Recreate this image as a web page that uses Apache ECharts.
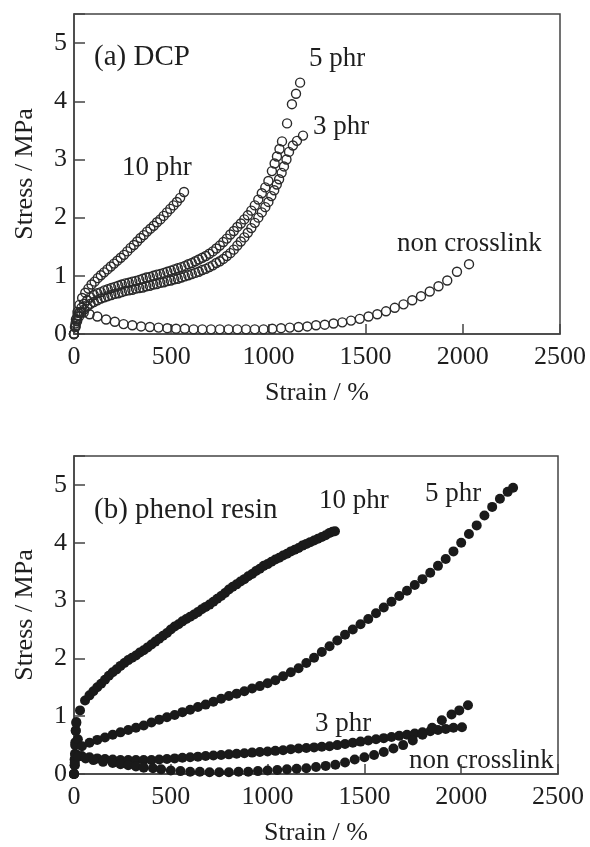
<!DOCTYPE html>
<html>
<head>
<meta charset="utf-8">
<style>
  html, body { margin: 0; padding: 0; background: #fff; }
  #chart-container { width: 590px; height: 847px; }
</style>
<script src="https://cdn.jsdelivr.net/npm/echarts/dist/echarts.min.js"></script>
</head>
<body>
<div id="chart-container"></div>
<script>
// axis ticks
var strainTicks = [0, 500, 1000, 1500, 2000, 2500];
var stressTicks = [0, 1, 2, 3, 4, 5];

// (a) DCP, open circles
var dcp10Strain = [0, 5, 10, 18, 28, 42, 58, 74, 90, 106, 122, 138, 155, 172, 189, 206, 223, 240, 257, 274, 291, 308, 325, 342, 359, 376, 393, 410, 427, 444, 461, 478, 495, 512, 529, 546, 566];
var dcp10Stress = [0, 0.12, 0.25, 0.38, 0.5, 0.62, 0.71, 0.78, 0.85, 0.9, 0.96, 1.01, 1.06, 1.11, 1.16, 1.21, 1.26, 1.31, 1.36, 1.42, 1.48, 1.53, 1.59, 1.65, 1.7, 1.76, 1.81, 1.86, 1.92, 1.97, 2.03, 2.09, 2.15, 2.21, 2.27, 2.34, 2.44];

var dcp5Strain = [0, 8, 16, 26, 38, 52, 68, 85, 102, 120, 138, 156, 174, 192, 210, 228, 246, 264, 282, 300, 318, 336, 354, 372, 390, 408, 426, 444, 462, 480, 498, 516, 534, 552, 570, 588, 606, 624, 642, 660, 678, 696, 714, 732, 750, 768, 786, 804, 822, 840, 858, 876, 894, 912, 930, 948, 966, 984, 1000, 1018, 1032, 1044, 1057, 1070, 1096, 1121, 1142, 1163];
var dcp5Stress = [0, 0.14, 0.25, 0.36, 0.45, 0.52, 0.58, 0.63, 0.67, 0.7, 0.72, 0.75, 0.77, 0.79, 0.81, 0.83, 0.85, 0.87, 0.88, 0.9, 0.91, 0.93, 0.95, 0.97, 0.98, 1.0, 1.02, 1.03, 1.05, 1.07, 1.09, 1.11, 1.13, 1.15, 1.17, 1.2, 1.22, 1.25, 1.28, 1.31, 1.34, 1.38, 1.42, 1.47, 1.52, 1.58, 1.64, 1.71, 1.77, 1.84, 1.9, 1.97, 2.04, 2.12, 2.21, 2.31, 2.42, 2.52, 2.63, 2.8, 2.93, 3.05, 3.18, 3.31, 3.62, 3.95, 4.13, 4.32];

var dcp3Strain = [0, 8, 16, 26, 38, 52, 68, 85, 102, 120, 138, 156, 174, 192, 210, 228, 246, 264, 282, 300, 318, 336, 354, 372, 390, 408, 426, 444, 462, 480, 498, 516, 534, 552, 570, 588, 606, 624, 642, 660, 678, 696, 714, 732, 750, 768, 786, 804, 822, 840, 858, 876, 894, 912, 930, 948, 966, 984, 1000, 1015, 1030, 1043, 1055, 1068, 1080, 1093, 1106, 1126, 1147, 1178];
var dcp3Stress = [0, 0.12, 0.22, 0.3, 0.37, 0.42, 0.47, 0.52, 0.55, 0.58, 0.61, 0.63, 0.65, 0.67, 0.69, 0.7, 0.72, 0.74, 0.75, 0.76, 0.78, 0.79, 0.8, 0.82, 0.83, 0.85, 0.86, 0.88, 0.89, 0.91, 0.92, 0.94, 0.95, 0.97, 0.99, 1.01, 1.03, 1.05, 1.07, 1.1, 1.12, 1.15, 1.18, 1.22, 1.25, 1.29, 1.34, 1.39, 1.45, 1.52, 1.59, 1.66, 1.74, 1.82, 1.91, 2.0, 2.09, 2.18, 2.27, 2.37, 2.47, 2.57, 2.66, 2.77, 2.88, 3.0, 3.13, 3.24, 3.32, 3.41];

var dcpNonStrain = [0, 8, 18, 30, 50, 80, 120, 165, 210, 255, 300, 345, 390, 435, 480, 525, 570, 615, 660, 705, 750, 795, 840, 885, 930, 975, 1020, 1065, 1110, 1155, 1200, 1245, 1290, 1335, 1380, 1425, 1470, 1515, 1560, 1605, 1650, 1695, 1740, 1785, 1830, 1875, 1920, 1970, 2032];
var dcpNonStress = [0, 0.18, 0.32, 0.38, 0.37, 0.34, 0.3, 0.25, 0.21, 0.17, 0.15, 0.13, 0.12, 0.11, 0.1, 0.09, 0.09, 0.08, 0.08, 0.08, 0.08, 0.08, 0.08, 0.08, 0.08, 0.08, 0.09, 0.1, 0.11, 0.12, 0.13, 0.15, 0.16, 0.18, 0.2, 0.23, 0.26, 0.3, 0.34, 0.39, 0.45, 0.51, 0.58, 0.65, 0.73, 0.82, 0.92, 1.07, 1.2];

// (b) phenol resin, filled circles
var phe10Strain = [0, 3, 5, 7, 9, 12, 31, 57, 80, 100, 120, 140, 160, 180, 200, 220, 240, 260, 280, 300, 320, 340, 360, 380, 400, 420, 440, 460, 480, 500, 520, 540, 560, 580, 600, 620, 640, 660, 680, 700, 720, 740, 760, 780, 800, 820, 840, 860, 880, 900, 920, 940, 960, 980, 1000, 1020, 1040, 1060, 1080, 1100, 1120, 1140, 1160, 1180, 1200, 1220, 1240, 1260, 1280, 1300, 1320, 1335, 1348];
var phe10Stress = [0, 0.15, 0.35, 0.55, 0.75, 0.9, 1.1, 1.27, 1.36, 1.43, 1.5, 1.56, 1.63, 1.7, 1.76, 1.81, 1.87, 1.92, 1.97, 2.01, 2.05, 2.1, 2.14, 2.19, 2.24, 2.29, 2.34, 2.39, 2.44, 2.5, 2.55, 2.59, 2.64, 2.68, 2.72, 2.76, 2.8, 2.85, 2.89, 2.93, 2.98, 3.03, 3.08, 3.13, 3.19, 3.24, 3.28, 3.33, 3.37, 3.42, 3.46, 3.51, 3.55, 3.6, 3.63, 3.67, 3.71, 3.74, 3.78, 3.81, 3.85, 3.88, 3.91, 3.95, 3.98, 4.01, 4.04, 4.07, 4.1, 4.13, 4.17, 4.19, 4.2];

var phe5Strain = [0, 3, 6, 9, 12, 20, 41, 80, 120, 160, 200, 240, 280, 320, 360, 400, 440, 480, 520, 560, 600, 640, 680, 720, 760, 800, 840, 880, 920, 960, 1000, 1040, 1080, 1120, 1160, 1200, 1240, 1280, 1320, 1360, 1400, 1440, 1480, 1520, 1560, 1600, 1640, 1680, 1720, 1760, 1800, 1840, 1880, 1920, 1960, 2000, 2040, 2080, 2120, 2160, 2200, 2240, 2268];
var phe5Stress = [0, 0.25, 0.5, 0.75, 0.88, 0.6, 0.48, 0.54, 0.59, 0.63, 0.68, 0.72, 0.76, 0.8, 0.84, 0.89, 0.94, 0.98, 1.02, 1.07, 1.11, 1.16, 1.2, 1.25, 1.3, 1.35, 1.39, 1.43, 1.48, 1.52, 1.57, 1.62, 1.69, 1.76, 1.83, 1.92, 2.01, 2.11, 2.21, 2.31, 2.41, 2.5, 2.59, 2.68, 2.78, 2.88, 2.98, 3.08, 3.17, 3.27, 3.37, 3.48, 3.6, 3.72, 3.85, 4.0, 4.15, 4.3, 4.47, 4.62, 4.76, 4.88, 4.95];

var phe3Strain = [0, 4, 8, 15, 40, 80, 120, 160, 200, 240, 280, 320, 360, 400, 440, 480, 520, 560, 600, 640, 680, 720, 760, 800, 840, 880, 920, 960, 1000, 1040, 1080, 1120, 1160, 1200, 1240, 1280, 1320, 1360, 1400, 1440, 1480, 1520, 1560, 1600, 1640, 1680, 1720, 1760, 1800, 1840, 1880, 1920, 1960, 2004];
var phe3Stress = [0, 0.15, 0.28, 0.33, 0.31, 0.29, 0.27, 0.26, 0.25, 0.24, 0.24, 0.24, 0.24, 0.24, 0.25, 0.26, 0.27, 0.28, 0.29, 0.3, 0.31, 0.32, 0.33, 0.34, 0.35, 0.36, 0.37, 0.38, 0.39, 0.4, 0.41, 0.43, 0.44, 0.45, 0.46, 0.47, 0.48, 0.5, 0.52, 0.54, 0.56, 0.58, 0.6, 0.62, 0.64, 0.66, 0.68, 0.7, 0.72, 0.74, 0.76, 0.78, 0.8, 0.81];

var pheNonStrain = [0, 4, 8, 20, 60, 100, 150, 200, 240, 280, 320, 360, 408, 450, 500, 550, 600, 650, 700, 750, 800, 850, 900, 950, 1000, 1050, 1100, 1150, 1200, 1250, 1300, 1350, 1400, 1450, 1500, 1550, 1600, 1650, 1700, 1750, 1800, 1850, 1900, 1950, 1990, 2035];
var pheNonStress = [0, 0.2, 0.32, 0.3, 0.27, 0.24, 0.21, 0.19, 0.17, 0.15, 0.13, 0.11, 0.1, 0.08, 0.06, 0.05, 0.04, 0.04, 0.03, 0.03, 0.03, 0.04, 0.04, 0.05, 0.06, 0.07, 0.08, 0.09, 0.1, 0.12, 0.14, 0.16, 0.2, 0.25, 0.29, 0.33, 0.38, 0.44, 0.5, 0.58, 0.68, 0.8, 0.93, 1.03, 1.1, 1.19];

function pairs(xs, ys) {
  var out = [];
  for (var i = 0; i < xs.length; i++) {
    out.push([xs[i], ys[i]]);
  }
  return out;
}

var serif = '"Liberation Serif", "Times New Roman", serif';
var ink = "#1e1e1e";
var frame = "#444";

function makeXAxis(idx) {
  return {
    gridIndex: idx,
    type: "value",
    min: strainTicks[0],
    max: strainTicks[strainTicks.length - 1],
    interval: strainTicks[1] - strainTicks[0],
    name: "Strain / %",
    nameLocation: "middle",
    nameGap: 46,
    nameTextStyle: { fontFamily: serif, fontSize: 26, color: ink },
    axisLine: { show: true, lineStyle: { color: frame, width: 1.5 } },
    axisTick: { show: true, inside: true, length: 10, lineStyle: { color: frame, width: 1.5 } },
    axisLabel: {
      fontFamily: serif,
      fontSize: 26,
      color: ink,
      margin: 10,
      formatter: function (v) {
        return String(v);
      },
    },
    splitLine: { show: false },
  };
}

function makeYAxis(idx) {
  return {
    gridIndex: idx,
    type: "value",
    min: stressTicks[0],
    max: 5.5,
    interval: stressTicks[1] - stressTicks[0],
    name: "Stress / MPa",
    nameLocation: "middle",
    nameGap: 36,
    nameTextStyle: { fontFamily: serif, fontSize: 26, color: ink },
    axisLine: { show: true, lineStyle: { color: frame, width: 1.5 } },
    axisTick: { show: true, inside: true, length: 11, lineStyle: { color: frame, width: 1.5 } },
    axisLabel: {
      fontFamily: serif,
      fontSize: 26,
      color: ink,
      margin: 7,
      formatter: function (v) {
        return stressTicks.indexOf(v) >= 0 ? String(v) : "";
      },
    },
    splitLine: { show: false },
  };
}

// open circles for DCP
function openSeries(name, xs, ys) {
  return {
    name: name,
    type: "scatter",
    xAxisIndex: 0,
    yAxisIndex: 0,
    symbol: "circle",
    symbolSize: 9,
    itemStyle: { color: "rgba(0,0,0,0)", borderColor: "#2a2a2a", borderWidth: 1.4, opacity: 1 },
    data: pairs(xs, ys),
  };
}

// filled circles for phenol resin
function filledSeries(name, xs, ys) {
  return {
    name: name,
    type: "scatter",
    xAxisIndex: 1,
    yAxisIndex: 1,
    symbol: "circle",
    symbolSize: 10,
    itemStyle: { color: "#1a1a1a", opacity: 1 },
    data: pairs(xs, ys),
  };
}

function note(text, x, y, size) {
  return {
    type: "text",
    x: x,
    y: y,
    style: {
      text: text,
      fontFamily: serif,
      fontSize: size || 27,
      fill: ink,
      verticalAlign: "middle",
    },
  };
}

var dom = document.getElementById("chart-container");
var myChart = echarts.init(dom, null, {
  renderer: "canvas",
  useDirtyRect: false,
});

var option = {
  animation: false,
  backgroundColor: "#fff",
  grid: [
    { left: 74, top: 14, width: 486, height: 320, show: true, borderColor: frame, borderWidth: 1.5 },
    { left: 74, top: 456, width: 484, height: 320, show: true, borderColor: frame, borderWidth: 1.5 },
  ],
  xAxis: [makeXAxis(0), makeXAxis(1)],
  yAxis: [makeYAxis(0), makeYAxis(1)],
  series: [
    openSeries("DCP 10 phr", dcp10Strain, dcp10Stress),
    openSeries("DCP 5 phr", dcp5Strain, dcp5Stress),
    openSeries("DCP 3 phr", dcp3Strain, dcp3Stress),
    openSeries("DCP non crosslink", dcpNonStrain, dcpNonStress),
    filledSeries("phenol 10 phr", phe10Strain, phe10Stress),
    filledSeries("phenol 5 phr", phe5Strain, phe5Stress),
    filledSeries("phenol 3 phr", phe3Strain, phe3Stress),
    filledSeries("phenol non crosslink", pheNonStrain, pheNonStress),
  ],
  graphic: [
    note("(a) DCP", 94, 57, 29),
    note("10 phr", 122, 168),
    note("5 phr", 309, 59),
    note("3 phr", 313, 127),
    note("non crosslink", 397, 244),
    note("(b) phenol resin", 94, 510, 29),
    note("10 phr", 319, 501),
    note("5 phr", 425, 494),
    note("3 phr", 315, 724),
    note("non crosslink", 409, 761),
  ],
};

if (option && typeof option === "object") {
  myChart.setOption(option);
}

window.addEventListener("resize", myChart.resize);
</script>
</body>
</html>
